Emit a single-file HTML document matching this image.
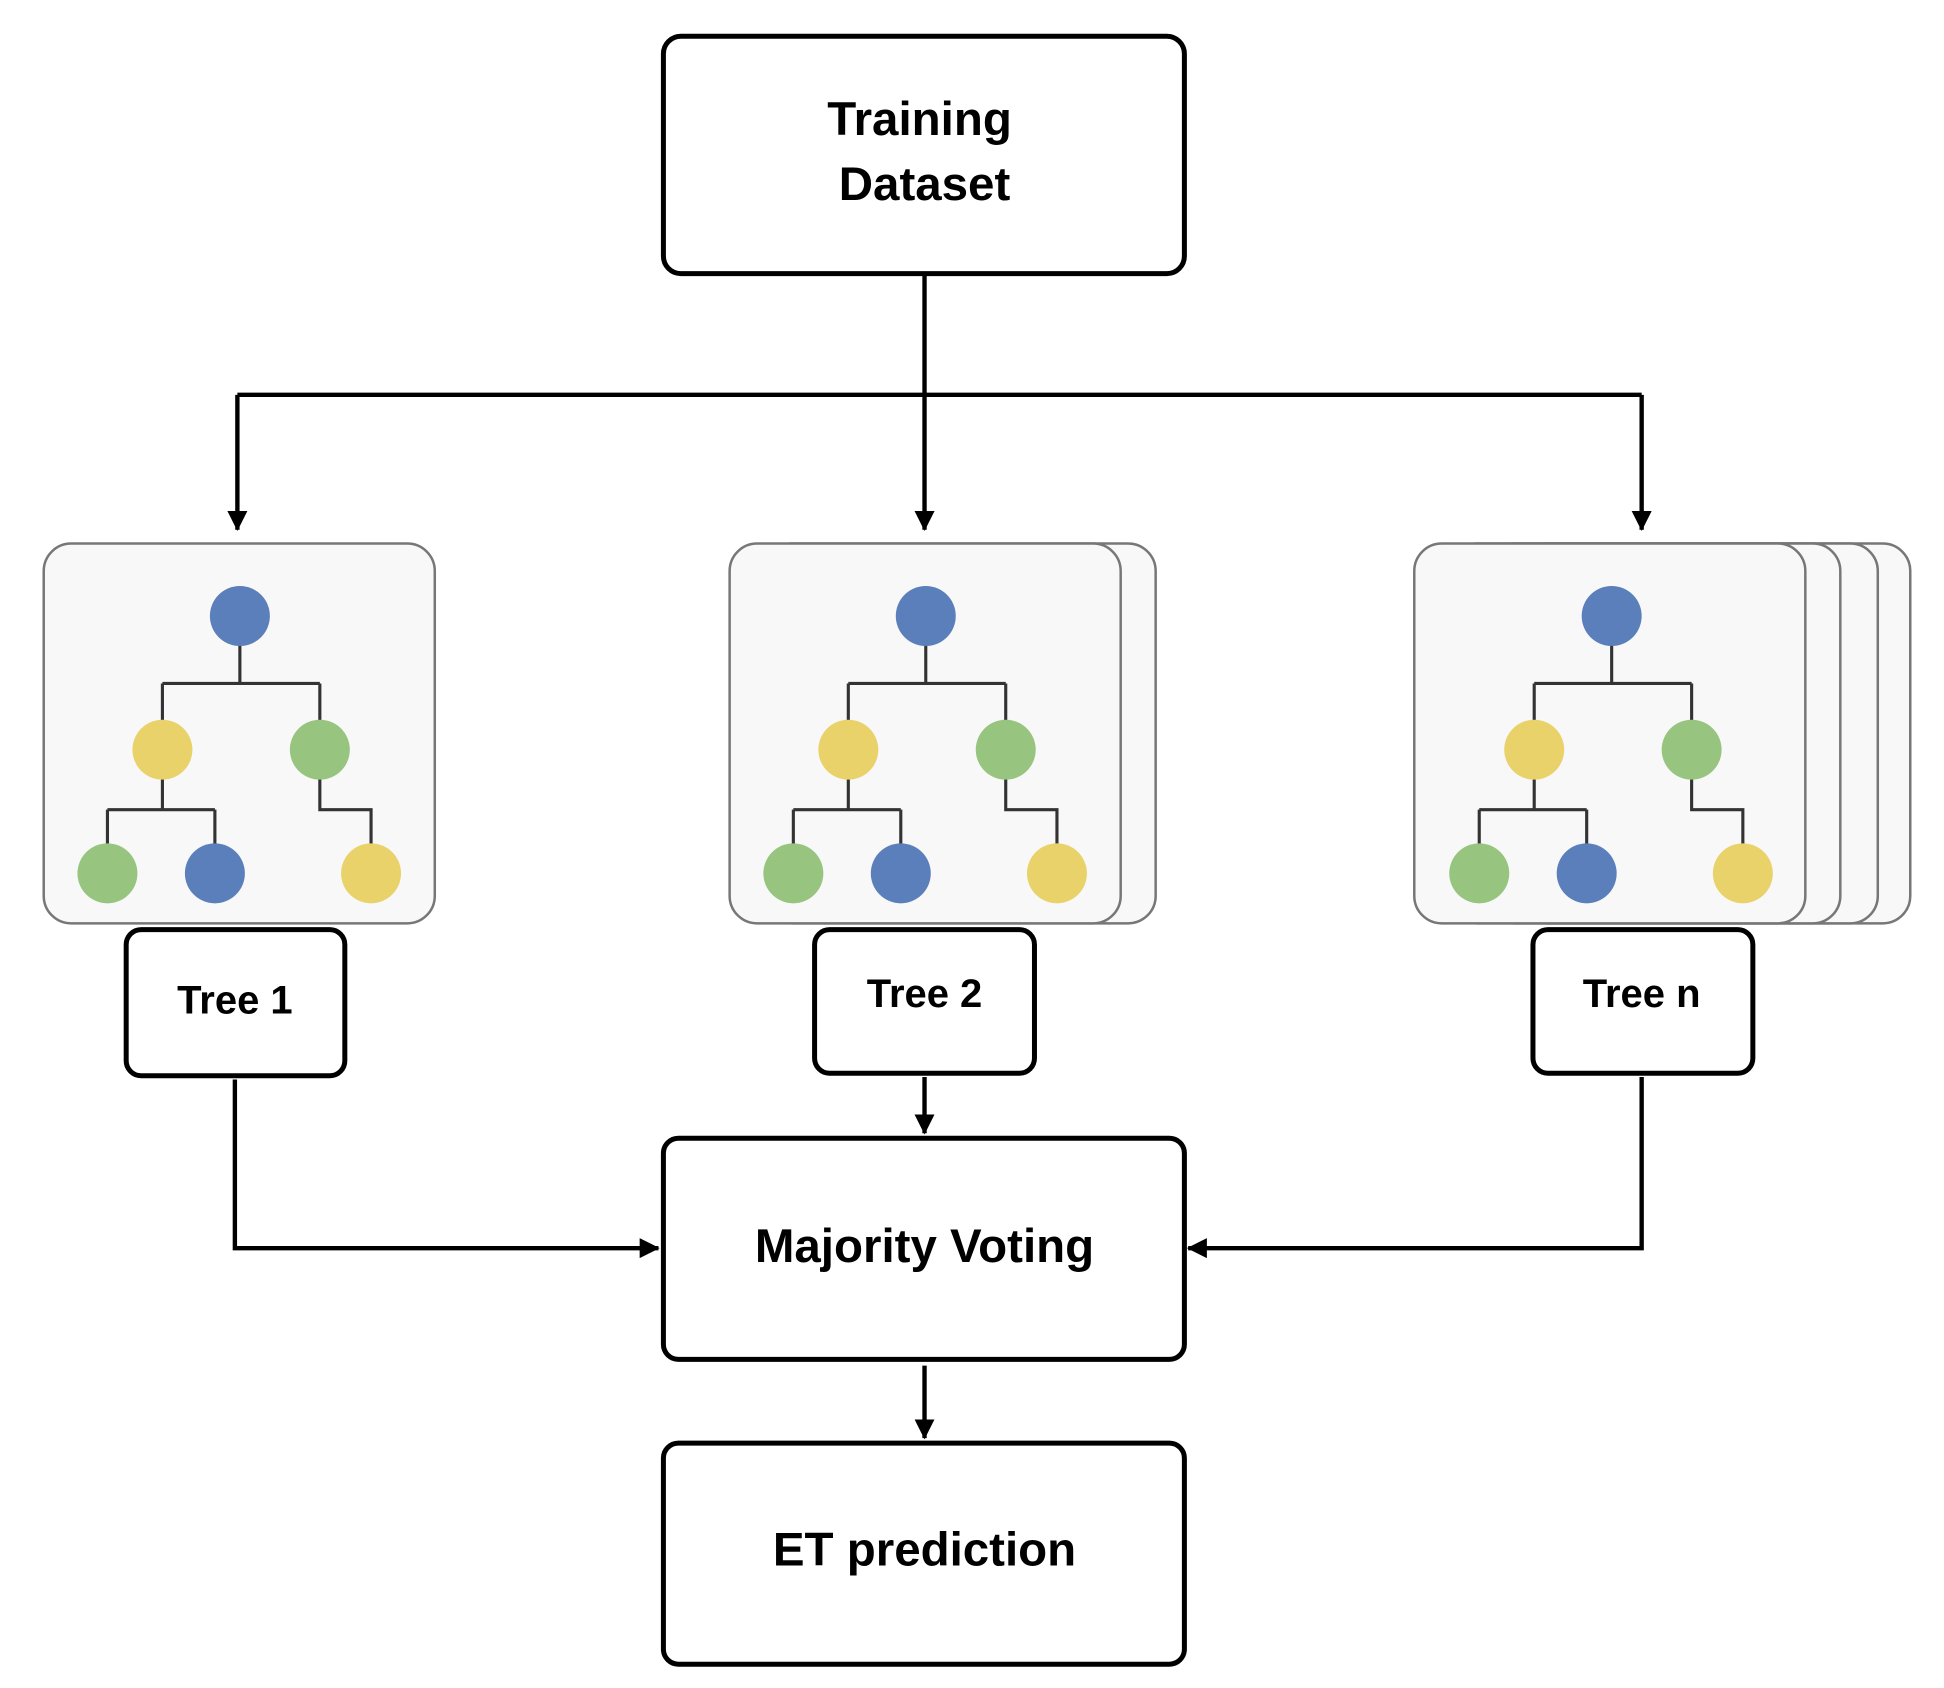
<!DOCTYPE html>
<html><head><meta charset="utf-8"><style>
html,body{margin:0;padding:0;background:#fff;}
svg{display:block;}
text{font-family:"Liberation Sans",Arial,sans-serif;font-weight:bold;fill:#000;text-anchor:middle;}
</style></head><body>
<svg width="1944" height="1688" viewBox="0 0 1556 1351" xmlns="http://www.w3.org/2000/svg">
<defs>
<marker id="ah2" markerWidth="18" markerHeight="18" refX="15" refY="8" orient="auto" markerUnits="userSpaceOnUse">
<path d="M0,0 L16,8 L0,16 z" fill="#000"/>
</marker>
<g id="tree">
<g stroke="#333" stroke-width="2.5" fill="none">
<path d="M192,493 V547 M130,547 H256 M130,547 V600 M256,547 V600 M130,600 V648 M86,648 H172 M86,648 V699 M172,648 V699 M256,600 V648 H297 V699"/>
</g>
<circle cx="192" cy="493" r="24" fill="#5a7fba"/>
<circle cx="130" cy="600" r="24" fill="#e9d26a"/>
<circle cx="256" cy="600" r="24" fill="#97c47e"/>
<circle cx="86" cy="699" r="24" fill="#97c47e"/>
<circle cx="172" cy="699" r="24" fill="#5a7fba"/>
<circle cx="297" cy="699" r="24" fill="#e9d26a"/>
</g>
</defs>
<g fill="#f8f8f8" stroke="#777" stroke-width="2">
<rect x="35" y="435" width="313" height="304" rx="22"/>
<rect x="612" y="435" width="313" height="304" rx="22"/>
<rect x="584" y="435" width="313" height="304" rx="22"/>
<rect x="1216" y="435" width="313" height="304" rx="22"/>
<rect x="1190" y="435" width="313" height="304" rx="22"/>
<rect x="1160" y="435" width="313" height="304" rx="22"/>
<rect x="1132" y="435" width="313" height="304" rx="22"/>
</g>
<use href="#tree"/>
<use href="#tree" x="549"/>
<use href="#tree" x="1098"/>
<g fill="#fff" stroke="#000" stroke-width="4">
<rect x="531" y="29" width="417" height="190" rx="14"/>
<rect x="101" y="744" width="175" height="117" rx="12"/>
<rect x="652" y="744" width="176" height="115" rx="12"/>
<rect x="1227" y="744" width="176" height="115" rx="12"/>
<rect x="531" y="911" width="417" height="177" rx="12"/>
<rect x="531" y="1155" width="417" height="177" rx="12"/>
</g>
<g stroke="#000" stroke-width="3.5" fill="none">
<path d="M740,220 V316"/>
<path d="M190,316 H1314"/>
<path d="M190,316 V424" marker-end="url(#ah2)"/>
<path d="M740,316 V424" marker-end="url(#ah2)"/>
<path d="M1314,316 V424" marker-end="url(#ah2)"/>
<path d="M188,864 V999 H527" marker-end="url(#ah2)"/>
<path d="M1314,862 V999 H951" marker-end="url(#ah2)"/>
<path d="M740,862 V907" marker-end="url(#ah2)"/>
<path d="M740,1093 V1151" marker-end="url(#ah2)"/>
</g>
<text x="736" y="108" font-size="38">Training</text>
<text x="740" y="160" font-size="38">Dataset</text>
<text x="188" y="811" font-size="32">Tree 1</text>
<text x="740" y="806" font-size="32">Tree 2</text>
<text x="1314" y="806" font-size="32">Tree n</text>
<text x="740" y="1010" font-size="38">Majority Voting</text>
<text x="740" y="1253" font-size="38">ET prediction</text>
</svg>
</body></html>
